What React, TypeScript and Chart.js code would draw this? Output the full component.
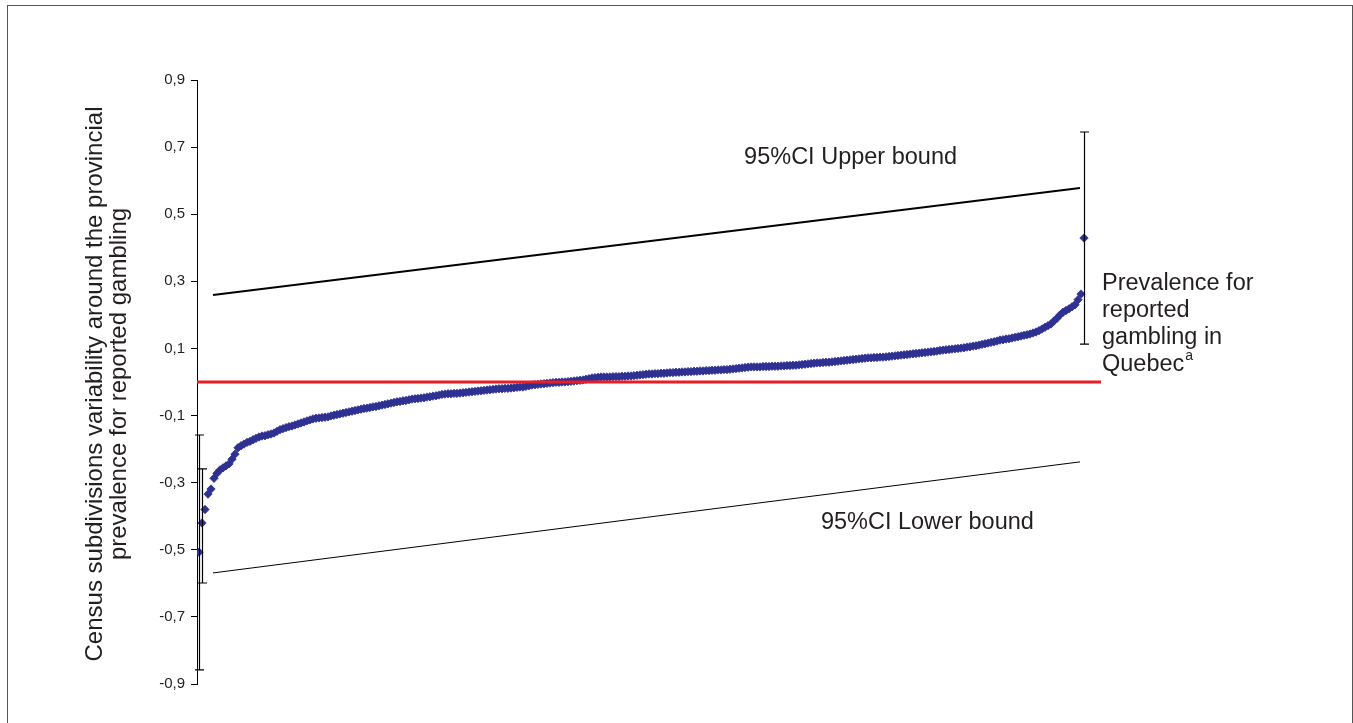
import React, { useEffect, useRef } from "react";
import { Chart, registerables } from "chart.js";

Chart.register(...registerables);

// Census subdivisions, sorted by variability (rank order)
const subdivisionValues = [
  -0.507, -0.42, -0.38, -0.334, -0.319, -0.287, -0.272, -0.262, -0.256, -0.25,
  -0.244, -0.23, -0.215, -0.196, -0.19, -0.185, -0.18, -0.177, -0.172, -0.168,
  -0.164, -0.161, -0.16, -0.157, -0.155, -0.152, -0.147, -0.142, -0.139, -0.136,
  -0.133, -0.131, -0.128, -0.125, -0.122, -0.119, -0.116, -0.113, -0.11, -0.108,
  -0.107, -0.106, -0.105, -0.104, -0.101, -0.099, -0.097, -0.095, -0.093, -0.091,
  -0.089, -0.087, -0.085, -0.083, -0.081, -0.079, -0.078, -0.076, -0.074, -0.073,
  -0.071, -0.069, -0.067, -0.065, -0.063, -0.061, -0.059, -0.058, -0.056, -0.055,
  -0.053, -0.051, -0.05, -0.049, -0.048, -0.047, -0.045, -0.044, -0.042, -0.041,
  -0.039, -0.037, -0.036, -0.035, -0.035, -0.034, -0.034, -0.033, -0.032, -0.031,
  -0.03, -0.029, -0.028, -0.027, -0.026, -0.025, -0.024, -0.023, -0.022, -0.021,
  -0.02, -0.02, -0.019, -0.019, -0.018, -0.017, -0.016, -0.015, -0.015, -0.013,
  -0.011, -0.009, -0.008, -0.007, -0.006, -0.005, -0.004, -0.003, -0.002, -0.001,
  -0.001, 0, 0, 0.001, 0.002, 0.003, 0.004, 0.005, 0.006, 0.008,
  0.01, 0.012, 0.013, 0.014, 0.015, 0.015, 0.015, 0.015, 0.016, 0.016,
  0.016, 0.017, 0.017, 0.018, 0.018, 0.019, 0.02, 0.021, 0.022, 0.023,
  0.024, 0.024, 0.025, 0.025, 0.026, 0.026, 0.027, 0.028, 0.028, 0.029,
  0.029, 0.03, 0.03, 0.031, 0.031, 0.032, 0.032, 0.033, 0.033, 0.034,
  0.034, 0.035, 0.035, 0.036, 0.036, 0.037, 0.037, 0.038, 0.039, 0.04,
  0.041, 0.042, 0.043, 0.044, 0.045, 0.045, 0.045, 0.045, 0.046, 0.046,
  0.046, 0.047, 0.047, 0.047, 0.048, 0.048, 0.049, 0.049, 0.05, 0.05,
  0.051, 0.052, 0.053, 0.054, 0.055, 0.056, 0.057, 0.057, 0.058, 0.059,
  0.059, 0.06, 0.061, 0.062, 0.063, 0.064, 0.065, 0.066, 0.067, 0.068,
  0.069, 0.07, 0.071, 0.072, 0.072, 0.073, 0.073, 0.074, 0.074, 0.075,
  0.076, 0.077, 0.078, 0.079, 0.08, 0.081, 0.082, 0.083, 0.084, 0.085,
  0.086, 0.087, 0.088, 0.089, 0.09, 0.091, 0.092, 0.094, 0.095, 0.096,
  0.097, 0.098, 0.099, 0.1, 0.101, 0.102, 0.104, 0.105, 0.107, 0.108,
  0.11, 0.112, 0.114, 0.116, 0.118, 0.12, 0.122, 0.125, 0.126, 0.128,
  0.129, 0.131, 0.133, 0.135, 0.137, 0.139, 0.141, 0.143, 0.146, 0.149,
  0.153, 0.158, 0.163, 0.168, 0.173, 0.182, 0.19, 0.2, 0.208, 0.213,
  0.218, 0.224, 0.23, 0.245, 0.262, 0.429,
];

// error bars (rank index, low, high)
const errorRank = [0, 1, 295];
const errorLow = [-0.858, -0.599, 0.113];
const errorHigh = [-0.158, -0.259, 0.745];

// 95% CI bounds (rank start/end)
const ciRank = [4.67, 293.67];
const ciUpper = [0.259, 0.578];
const ciLower = [-0.569, -0.238];

const provincialLevel = 0;
const rankMin = -0.667;
const rankMax = 300.667;

const yTickValues = [-0.9, -0.7, -0.5, -0.3, -0.1, 0.1, 0.3, 0.5, 0.7, 0.9];

const axisTitle = [
  "Census subdivisions variability around the provincial",
  "prevalence for reported gambling",
];
const upperLabel = "95%CI Upper bound";
const lowerLabel = "95%CI Lower bound";
const prevalenceLines = ["Prevalence for", "reported", "gambling in", "Quebec"];
const prevalenceSup = "a";

const FONT = '"Liberation Sans", Arial, Helvetica, sans-serif';
const TEXT = "#231f20";
const BLUE = "#2e3192";
const RED = "#ed1c24";

const annotationPlugin = {
  id: "annotations",
  afterDatasetsDraw(chart: any) {
    const { ctx, scales } = chart;
    const x = scales.x;
    const y = scales.y;
    ctx.save();
    // error bars
    ctx.strokeStyle = "#000";
    ctx.lineWidth = 1.2;
    for (let i = 0; i < errorRank.length; i++) {
      const px = Math.round(x.getPixelForValue(errorRank[i])) + 0.5;
      const y1 = y.getPixelForValue(errorLow[i]);
      const y2 = y.getPixelForValue(errorHigh[i]);
      ctx.beginPath();
      ctx.moveTo(px, y1);
      ctx.lineTo(px, y2);
      ctx.moveTo(px - 4.5, y1);
      ctx.lineTo(px + 4.5, y1);
      ctx.moveTo(px - 4.5, y2);
      ctx.lineTo(px + 4.5, y2);
      ctx.stroke();
    }
    ctx.restore();
  },
  afterDraw(chart: any) {
    const { ctx, scales, chartArea } = chart;
    const x = scales.x;
    const y = scales.y;
    ctx.save();
    ctx.fillStyle = TEXT;
    ctx.textBaseline = "alphabetic";
    ctx.textAlign = "left";
    ctx.font = `23.5px ${FONT}`;
    ctx.fillText(upperLabel, x.getPixelForValue(181.7), y.getPixelForValue(0.65));
    ctx.fillText(lowerLabel, x.getPixelForValue(207.3), y.getPixelForValue(-0.438));
    const px = chartArea.right + 1;
    const baseY = y.getPixelForValue(0.274);
    prevalenceLines.forEach((line, i) => {
      ctx.fillText(line, px, baseY + i * 27);
    });
    const lastW = ctx.measureText(prevalenceLines[prevalenceLines.length - 1]).width;
    ctx.font = `14px ${FONT}`;
    ctx.fillText(prevalenceSup, px + lastW + 1, baseY + (prevalenceLines.length - 1) * 27 - 11);

    // y-axis title
    const cy = (chartArea.top + chartArea.bottom) / 2 + 2;
    ctx.font = `24px ${FONT}`;
    ctx.textAlign = "center";
    axisTitle.forEach((line, i) => {
      ctx.save();
      ctx.translate(chartArea.left - 95.5 + i * 24.5, cy);
      ctx.rotate(-Math.PI / 2);
      ctx.fillText(line, 0, 0);
      ctx.restore();
    });
    ctx.restore();
  },
};

export default function App() {
  const canvasRef = useRef<HTMLCanvasElement | null>(null);

  useEffect(() => {
    const canvas = canvasRef.current;
    if (!canvas) return;
    const points = subdivisionValues.map((v, i) => ({ x: i, y: v }));
    const chart = new Chart(canvas, {
      type: "scatter",
      data: {
        datasets: [
          {
            label: "Provincial prevalence",
            data: [
              { x: rankMin, y: provincialLevel },
              { x: rankMax, y: provincialLevel },
            ],
            showLine: true,
            borderColor: RED,
            borderWidth: 3,
            pointRadius: 0,
          } as any,
          {
            label: "95%CI Upper bound",
            data: ciRank.map((r, i) => ({ x: r, y: ciUpper[i] })),
            showLine: true,
            borderColor: "#000",
            borderWidth: 2,
            pointRadius: 0,
          },
          {
            label: "95%CI Lower bound",
            data: ciRank.map((r, i) => ({ x: r, y: ciLower[i] })),
            showLine: true,
            borderColor: "#000",
            borderWidth: 1,
            pointRadius: 0,
          },
          {
            label: "Census subdivisions",
            data: points,
            pointStyle: "rectRot",
            pointRadius: 4.2,
            pointBackgroundColor: BLUE,
            pointBorderColor: BLUE,
            pointBorderWidth: 0.8,
          },
        ],
      },
      options: {
        animation: false,
        responsive: false,
        devicePixelRatio: 1,
        layout: { padding: { left: 0, top: 80, right: 252, bottom: 39 } },
        plugins: {
          legend: { display: false },
          tooltip: { enabled: false },
        },
        scales: {
          x: {
            type: "linear",
            display: false,
            min: rankMin,
            max: rankMax,
          },
          y: {
            min: -0.9,
            max: 0.9,
            afterFit: (s: any) => {
              s.width = 197;
            },
            afterBuildTicks: (s: any) => {
              s.ticks = yTickValues.map((v) => ({ value: v }));
            },
            ticks: {
              color: TEXT,
              font: { family: FONT, size: 15 },
              padding: 6,
              callback: (v: any) => Number(v).toFixed(1).replace(".", ","),
            },
            grid: {
              drawOnChartArea: false,
              drawTicks: true,
              tickLength: 6,
              color: "#000",
              lineWidth: 1,
            },
            border: { display: true, color: "#000", width: 1 },
          },
        },
      },
      plugins: [annotationPlugin],
    });
    return () => chart.destroy();
  }, []);

  return (
    <div>
      <canvas
        ref={canvasRef}
        width={1353}
        height={723}
        style={{ position: "fixed", left: 0, top: 0, width: 1353, height: 723 }}
      />
      <div
        style={{
          position: "fixed",
          left: 7,
          top: 5,
          width: 1346,
          height: 760,
          boxSizing: "border-box",
          border: "1.5px solid #555",
          pointerEvents: "none",
        }}
      />
    </div>
  );
}
